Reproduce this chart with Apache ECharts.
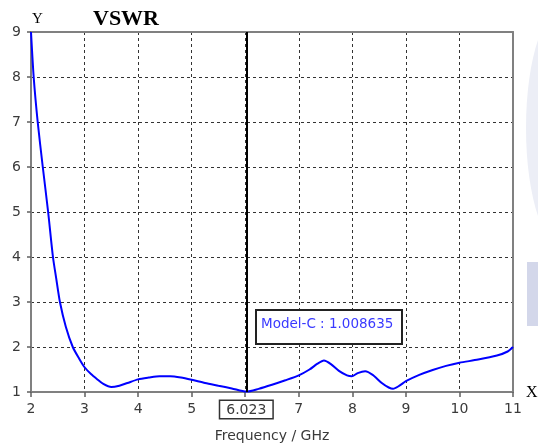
<!DOCTYPE html>
<html>
<head>
<meta charset="utf-8">
<script src="https://cdn.jsdelivr.net/npm/echarts@6/dist/echarts.min.js"></script>
<style>
html,body{margin:0;padding:0;background:#fff;}
#c{width:538px;height:448px;}
</style>
</head>
<body>
<div id="c"></div>
<script>
var freq = [2.0, 2.05, 2.125, 2.22, 2.32, 2.41, 2.47, 2.54, 2.65, 2.78, 2.9, 3.0, 3.12, 3.23, 3.35, 3.5, 3.65, 3.8, 4.0, 4.2, 4.4, 4.6, 4.8, 5.0, 5.25, 5.5, 5.75, 6.023, 6.25, 6.5, 6.75, 7.0, 7.2, 7.35, 7.47, 7.6, 7.75, 7.9, 7.99, 8.1, 8.24, 8.38, 8.55, 8.68, 8.76, 8.88, 9.0, 9.25, 9.5, 9.75, 10.0, 10.35, 10.7, 10.9, 11.0];
var vswr = [9.0, 8.0, 7.0, 6.0, 5.0, 4.0, 3.53, 3.0, 2.45, 2.0, 1.74, 1.55, 1.4, 1.29, 1.18, 1.11, 1.14, 1.2, 1.28, 1.32, 1.35, 1.35, 1.32, 1.27, 1.2, 1.14, 1.08, 1.008635, 1.07, 1.16, 1.26, 1.37, 1.5, 1.63, 1.7, 1.62, 1.47, 1.37, 1.35, 1.42, 1.46, 1.38, 1.2, 1.1, 1.07, 1.14, 1.24, 1.38, 1.49, 1.58, 1.65, 1.72, 1.81, 1.9, 2.0];
var markerFreq = 6.023;
var markerValue = 1.008635;
var seriesName = 'Model-C';
var xTicks = [2, 3, 4, 5, 6, 7, 8, 9, 10, 11];
var yTicks = [1, 2, 3, 4, 5, 6, 7, 8, 9];

var chart = echarts.init(document.getElementById('c'), null, {renderer: 'canvas'});
var pts = freq.map(function (f, i) { return [f, vswr[i]]; });
var labelStyle = {color: '#3a3a3a', fontFamily: 'DejaVu Sans', fontSize: 14};

chart.setOption({
  animation: false,
  backgroundColor: '#fff',
  grid: {left: 31, right: 25, top: 32, bottom: 53, containLabel: false},
  xAxis: [{
    type: 'value', min: xTicks[0], max: xTicks[xTicks.length - 1], interval: 1,
    name: 'Frequency / GHz', nameLocation: 'middle', nameGap: 37,
    nameTextStyle: {color: '#3a3a3a', fontFamily: 'DejaVu Sans', fontSize: 14},
    axisLine: {show: true, onZero: false, lineStyle: {color: '#808080', width: 2}},
    axisTick: {show: true, inside: false, length: 5, lineStyle: {color: '#606060', width: 1.5}},
    axisLabel: Object.assign({margin: 10}, labelStyle),
    splitLine: {show: true, lineStyle: {color: '#333', width: 1, type: [3, 3]}}
  }, {
    type: 'value', position: 'top', min: xTicks[0], max: xTicks[xTicks.length - 1], interval: 1,
    axisLine: {show: true, onZero: false, lineStyle: {color: '#808080', width: 2}},
    axisTick: {show: false}, axisLabel: {show: false}, splitLine: {show: false}
  }],
  yAxis: [{
    type: 'value', min: yTicks[0], max: yTicks[yTicks.length - 1], interval: 1,
    axisLine: {show: true, onZero: false, lineStyle: {color: '#808080', width: 2}},
    axisTick: {show: true, inside: false, length: 4, lineStyle: {color: '#606060', width: 1.5}},
    axisLabel: Object.assign({margin: 10}, labelStyle),
    splitLine: {show: true, lineStyle: {color: '#333', width: 1, type: [3, 3]}}
  }, {
    type: 'value', position: 'right', min: yTicks[0], max: yTicks[yTicks.length - 1], interval: 1,
    axisLine: {show: true, onZero: false, lineStyle: {color: '#808080', width: 2}},
    axisTick: {show: false}, axisLabel: {show: false}, splitLine: {show: false}
  }],
  series: [{
    name: seriesName,
    type: 'line',
    data: pts,
    showSymbol: false,
    smooth: 0.25,
    lineStyle: {color: '#0000ff', width: 2},
    markLine: {
      silent: true,
      symbol: ['none', 'none'],
      lineStyle: {color: '#000', width: 2, type: 'solid'},
      label: {
        show: true, position: 'start', distance: 9,
        formatter: String(markerFreq),
        color: '#3a3a3a', fontFamily: 'DejaVu Sans', fontSize: 14,
        backgroundColor: '#fff', borderColor: '#333', borderWidth: 1.5,
        padding: [2, 6, 1, 6]
      },
      data: [{xAxis: markerFreq}]
    }
  }],
  graphic: [
    {type: 'text', left: 93, top: 8, style: {text: 'VSWR', font: 'bold 22px "Liberation Serif"', fill: '#000'}},
    {type: 'text', left: 32, top: 12, style: {text: 'Y', font: '15px "Liberation Serif"', fill: '#000'}},
    {type: 'text', left: 526, top: 385, style: {text: 'X', font: '16px "Liberation Serif"', fill: '#000'}},
    {type: 'rect', left: 255, top: 309, shape: {width: 146, height: 34}, style: {fill: '#fff', stroke: '#222', lineWidth: 2}, z: 10},
    {type: 'text', left: 261, top: 317, z: 11, style: {text: seriesName + ' : ' + markerValue.toFixed(6), font: '13.5px "DejaVu Sans"', fill: '#3a3aff'}},
    {type: 'ellipse', shape: {cx: 562, cy: 128, rx: 36, ry: 118}, style: {fill: '#eceef6'}, z: -1},
    {type: 'rect', left: 527, top: 262, shape: {width: 11, height: 64}, style: {fill: '#d3d7ea'}, z: -1}
  ]
});
</script>
</body>
</html>
